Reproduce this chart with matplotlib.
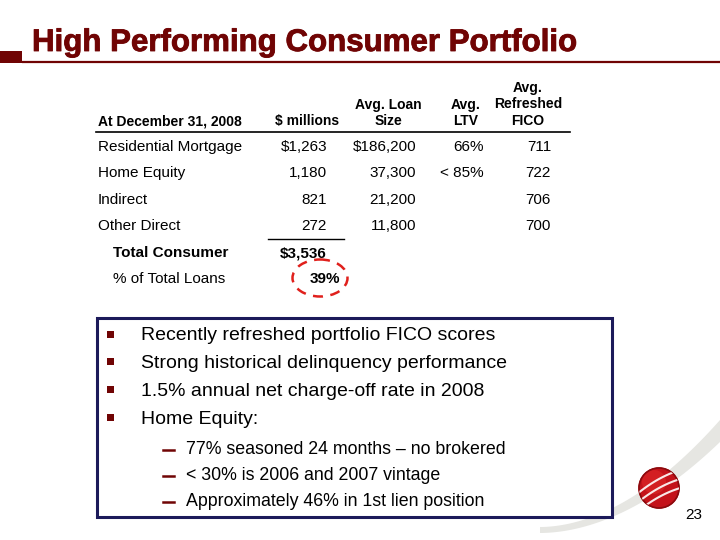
import numpy as np
import matplotlib.pyplot as plt
import matplotlib.patheffects as pe
from matplotlib.patches import Rectangle, Ellipse, Circle, Polygon

plt.rcParams['font.family'] = ['Liberation Sans', 'DejaVu Sans']

# table data
row_labels = ["Residential Mortgage", "Home Equity", "Indirect", "Other Direct"]
millions = ["$1,263", "1,180", "821", "272"]
loan_size = ["$186,200", "37,300", "21,200", "11,800"]
ltv = ["66%", "< 85%", "", ""]
fico = ["711", "722", "706", "700"]
total_label = "Total Consumer"
total_value = "$3,536"
pct_label = "% of Total Loans"
pct_value = "39%"

headers = ["At December 31, 2008", "$ millions", "Avg. Loan\nSize", "Avg.\nLTV", "Avg.\nRefreshed\nFICO"]

bullets = ["Recently refreshed portfolio FICO scores",
           "Strong historical delinquency performance",
           "1.5% annual net charge-off rate in 2008",
           "Home Equity:"]
sub_bullets = ["77% seasoned 24 months \u2013 no brokered",
               "< 30% is 2006 and 2007 vintage",
               "Approximately 46% in 1st lien position"]

red = "#700404"
navy = "#1c1a5a"

fig = plt.figure(figsize=(7.2, 5.4), dpi=100)
ax = fig.add_axes([0, 0, 1, 1])
ax.set_xlim(0, 720)
ax.set_ylim(540, 0)
ax.axis("off")

#%% title
ax.text(32, 51, "High Performing Consumer Portfolio", fontsize=22.5, fontweight="bold",
        color=red, va="baseline", ha="left",
        path_effects=[pe.withStroke(linewidth=0.6, foreground=red)])
ax.add_patch(Rectangle((0, 50.5), 22, 12, color=red, lw=0))
ax.plot([22, 720], [61.5, 61.5], color=red, lw=1.6, solid_capstyle="butt")

#%% table header
hdr_x = [98, 307, 388, 466, 528]
hdr_ha = ["left", "center", "center", "center", "center"]
for i, h in enumerate(headers):
    lines = h.split("\n")
    for j, ln in enumerate(lines):
        y = 121 - (len(lines) - 1 - j) * 16.5
        ax.text(hdr_x[i], y, ln, fontsize=10, fontweight="bold", ha=hdr_ha[i], va="center")
ax.plot([96, 570], [132, 132], color="black", lw=1.2)

#%% table rows
row_y = [147, 173, 200, 226]
col_right = [327, 416, 484, 551]
for k in range(len(row_labels)):
    ax.text(98, row_y[k], row_labels[k], fontsize=11, ha="left", va="center")
    for c, col in enumerate([millions, loan_size, ltv, fico]):
        ax.text(col_right[c], row_y[k], col[k], fontsize=11, ha="right", va="center")

ax.plot([268, 344], [239, 239], color="black", lw=1)
ax.text(113, 253, total_label, fontsize=11, fontweight="bold", ha="left", va="center")
ax.text(327, 253, total_value, fontsize=11, fontweight="bold", ha="right", va="center")
ax.text(113, 279, pct_label, fontsize=11, ha="left", va="center")
ax.text(340, 279, pct_value, fontsize=11, fontweight="bold", ha="right", va="center")
ax.add_patch(Ellipse((320, 278), 55, 37, fill=False, ec="#e0201c", lw=1.8, ls=(0, (4, 3))))

#%% logo swoosh and ball (drawn first, box sits on top)
t = np.linspace(0, 1, 80)
top_x = 540 + 180 * t
top_y = 527 - 107 * t ** 1.9
bot_x = 540 + 180 * t
bot_y = 533 - 91 * t ** 1.9
ax.add_patch(Polygon(np.column_stack([np.r_[top_x, bot_x[::-1]], np.r_[top_y, bot_y[::-1]]]),
                     closed=True, color="#e6e6e2", lw=0, zorder=1))
ball = Circle((659, 488), 20, color="#c4121a", zorder=3)
ax.add_patch(ball)
ax.add_patch(Circle((654, 482), 12, color="#e02a2a", zorder=3, alpha=0.55, lw=0))
ax.add_patch(Circle((659, 488), 20, fill=False, ec="#8a0a0e", lw=1.2, zorder=3))
for off in [-9, 0, 9]:
    xs = np.linspace(630, 690, 50)
    ys = 488 + off - 0.55 * (xs - 659) + 0.006 * (xs - 659) ** 2
    ln, = ax.plot(xs, ys, color="white", lw=1.5, zorder=4, alpha=0.9)
    ln.set_clip_path(ball)

#%% bullet box
ax.add_patch(Rectangle((97, 318), 515, 199, facecolor="white", ec=navy, lw=2.2, zorder=2))
for k, b in enumerate(bullets):
    y = 336 + k * 27.7
    ax.add_patch(Rectangle((107, y - 5.5), 7, 7, color=red, lw=0, zorder=3))
    ax.text(141, y, b, fontsize=14, ha="left", va="center", zorder=3)
for k, s in enumerate(sub_bullets):
    y = 450 + k * 26
    ax.plot([163, 174], [y, y], color=red, lw=1.8, zorder=3)
    ax.text(186, y, s, fontsize=12.8, ha="left", va="center", zorder=3)

ax.text(702, 515, "23", fontsize=11, ha="right", va="center")

fig.savefig("out.png", dpi=100)
